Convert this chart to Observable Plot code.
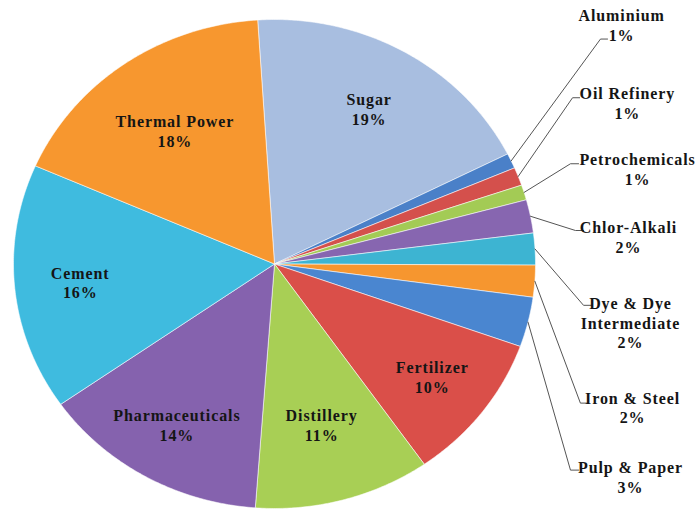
<!DOCTYPE html>
<html><head><meta charset="utf-8">
<script src="https://cdn.jsdelivr.net/npm/d3@7"></script>
<script src="https://cdn.jsdelivr.net/npm/@observablehq/plot@0.6"></script>
<style>body{margin:0;background:#fff} svg text{letter-spacing:0.9px}</style>
</head><body><div id="chart"></div>
<script>
// ---- data ----
const categories = ["Sugar","Aluminium","Oil Refinery","Petrochemicals","Chlor-Alkali","Dye & Dye Intermediate","Iron & Steel","Pulp & Paper","Fertilizer","Distillery","Pharmaceuticals","Cement","Thermal Power"];
const displayNames = ["Sugar","Aluminium","Oil Refinery","Petrochemicals","Chlor-Alkali","Dye & Dye\nIntermediate","Iron & Steel","Pulp & Paper","Fertilizer","Distillery","Pharmaceuticals","Cement","Thermal Power"];
const shares = [18.6,1.0,1.2,1.0,2.2,2.1,2.1,3.3,9.8,10.9,14.1,16.3,17.4];
const pctLabels = ["19%","1%","1%","1%","2%","2%","2%","3%","10%","11%","14%","16%","18%"];
const colors = ["#A8BEE0","#4A80C8","#D4504C","#A3CB55","#8766B0","#3DB4D2","#F6962F","#4A86D0","#DA4F49","#A8CF55","#8562AE","#3FBBDF","#F7972F"];
const startAngle = -3.7; // degrees clockwise from 12 o'clock

// ---- label layout (fraction of radius for inside labels; callout positions in pie units) ----
const insideRadius = {"Sugar":0.73,"Fertilizer":0.76,"Distillery":0.68,"Pharmaceuticals":0.757,"Cement":0.748,"Thermal Power":0.665};
const outside = {
  "Aluminium":              {tx:1.330, ty:0.978,  ex:1.249, ey:0.920,  ex2:1.276},
  "Oil Refinery":           {tx:1.352, ty:0.659,  ex:1.142, ey:0.680,  ex2:1.169},
  "Petrochemicals":         {tx:1.391, ty:0.390,  ex:1.134, ey:0.410,  ex2:1.165},
  "Chlor-Alkali":           {tx:1.356, ty:0.112,  ex:1.153, ey:0.137,  ex2:1.184},
  "Dye & Dye Intermediate": {tx:1.364, ty:-0.239, ex:1.184, ey:-0.169, ex2:1.218},
  "Iron & Steel":           {tx:1.372, ty:-0.586, ex:1.172, ey:-0.569, ex2:1.199},
  "Pulp & Paper":           {tx:1.364, ty:-0.871, ex:1.134, ey:-0.843, ex2:1.165}
};

// ---- build geometry ----
const total = d3.sum(shares);
const rad = d => d * Math.PI / 180;
const slicePts = [], insideLabels = [], outsideLabels = [], leaders = [];
let a0 = startAngle;
categories.forEach((name, i) => {
  const a1 = a0 + shares[i] / total * 360;
  slicePts.push({name, color: colors[i], x: 0, y: 0});
  const n = Math.max(2, Math.ceil((a1 - a0) / 0.5));
  for (let k = 0; k <= n; k++) {
    const a = rad(a0 + (a1 - a0) * k / n);
    slicePts.push({name, color: colors[i], x: Math.sin(a), y: Math.cos(a)});
  }
  slicePts.push({name, color: colors[i], x: 0, y: 0});
  const mid = rad((a0 + a1) / 2);
  const lab = displayNames[i] + "\n" + pctLabels[i];
  if (outside[name]) {
    const o = outside[name];
    outsideLabels.push({x: o.tx, y: o.ty, text: lab});
    leaders.push({name, x: Math.sin(mid), y: Math.cos(mid)});
    leaders.push({name, x: o.ex, y: o.ey});
    leaders.push({name, x: o.ex2, y: o.ey});
  } else {
    const r = insideRadius[name] ?? 0.73;
    insideLabels.push({x: r * Math.sin(mid), y: r * Math.cos(mid), text: lab});
  }
  a0 = a1;
});

const chart = Plot.plot({
  width: 695, height: 512,
  marginLeft: 13, marginRight: 160, marginTop: 19, marginBottom: 4,
  x: {domain: [-1, 1], axis: null},
  y: {domain: [-1, 1], axis: null},
  color: {type: "identity"},
  style: {fontFamily: "'Liberation Serif', 'Times New Roman', serif", background: "#fff"},
  marks: [
    Plot.line(slicePts, {x: "x", y: "y", z: "name", fill: "color", stroke: "#ffffff", strokeOpacity: 0.55, strokeWidth: 1, curve: "linear"}),
    Plot.line(leaders, {x: "x", y: "y", z: "name", stroke: "#555", strokeWidth: 1}),
    Plot.text(insideLabels, {x: "x", y: "y", text: "text", fontSize: 16, fontWeight: "bold", fill: "#151515", lineHeight: 1.25}),
    Plot.text(outsideLabels, {x: "x", y: "y", text: "text", fontSize: 16, fontWeight: "bold", fill: "#151515", lineHeight: 1.23})
  ]
});
document.getElementById("chart").appendChild(chart);
</script>
</body></html>
